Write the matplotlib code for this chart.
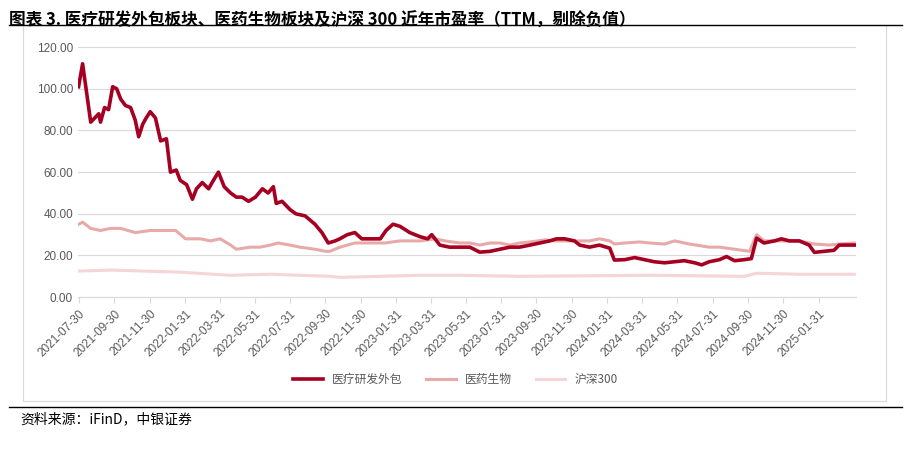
import matplotlib
matplotlib.use("Agg")
import matplotlib.pyplot as plt
import matplotlib.patches as mpatches
import pandas as pd
import numpy as np

plt.rcParams["font.family"] = ["Noto Sans CJK SC", "DejaVu Sans"]

start = pd.Timestamp("2021-07-30")
cro_days = [0,7,21,35,38,45,52,59,66,73,81,90,98,104,111,117,124,133,142,152,159,169,176,187,197,204,214,225,231,242,252,263,273,283,294,306,318,328,337,342,352,366,376,392,409,421,432,444,452,465,478,490,504,522,532,544,556,573,591,604,611,625,642,677,694,712,729,746,763,781,798,815,827,841,858,867,884,901,919,927,945,962,979,996,1014,1031,1048,1066,1078,1091,1109,1121,1135,1152,1164,1173,1186,1204,1216,1230,1247,1264,1273,1290,1307,1316,1330,1342]
cro_vals = [101,112,84,88,84,91,90,101,100,95,92,91,85,77,83,86,89,86,75,76,60,61,56,54,47,52,55,52,55,60,53,50,48,48,46,48,52,50,53,45,46,42,40,39,35,31,26,27,28,30,31,28,28,28,32,35,34,31,29,28,30,25,24,24,21.6,22,23,24,24,25,26,27,28,28,27,25,24,25,23.5,17.8,18,19,18,17,16.5,17,17.5,16.5,15.5,17,18,19.5,17.5,18,18.5,28.3,26,27,28,27,27,25,21.5,22,22.5,25,25,25]
bio_days = [0,7,21,38,55,73,98,124,150,168,185,211,228,245,263,273,297,314,332,345,366,383,409,427,435,452,478,504,530,556,591,617,634,660,677,694,712,729,746,763,781,807,824,850,884,901,919,927,945,971,988,1014,1031,1057,1091,1109,1135,1161,1173,1186,1212,1247,1273,1299,1316,1342]
bio_vals = [35,36,33,32,33,33,31,32,32,32,28,28,27,28,25,23,24,24,25,26,25,24,23,22,22,24,26,26,26,27,27,28,27,26,26,25,26,26,25,26,26.5,27.5,27,27,27,28,27,25.5,26,26.5,26,25.5,27,25.5,24,24,23,22,30,27,27,27,25.5,25,25.5,26]
hs_days = [0,55,176,263,332,435,452,522,591,660,763,988,1152,1173,1247,1342]
hs_vals = [12.5,13,12,10.5,11,10,9.5,10,10.5,10.5,10,10.5,10,11.5,11,11]
names = ["医疗研发外包", "医药生物", "沪深300"]
colors = ["#A50021", "#E8A9A9", "#F5D5D5"]

tick_dates = [pd.Timestamp("2021-07-31") + pd.offsets.MonthEnd(2*i) for i in range(22)]
tick_dates[0] = pd.Timestamp("2021-07-30")

fig = plt.figure(figsize=(9.11, 4.53), dpi=100)
ax = fig.add_axes([0.0856, 0.344, 0.854, 0.552])

def todates(d):
    return [start + pd.Timedelta(days=x) for x in d]

ax.plot(todates(hs_days), hs_vals, color=colors[2], lw=2.2, label=names[2], zorder=2)
ax.plot(todates(bio_days), bio_vals, color=colors[1], lw=2.2, label=names[1], zorder=3)
ax.plot(todates(cro_days), cro_vals, color=colors[0], lw=2.6, label=names[0], zorder=4)

ax.set_ylim(0, 120)
ax.set_yticks(np.arange(0, 121, 20))
ax.set_yticklabels([f"{v:.2f}" for v in np.arange(0, 121, 20)], fontsize=8.5, color="#595959",
                   fontfamily="Liberation Sans")
ax.set_xlim(start - pd.Timedelta(days=1), start + pd.Timedelta(days=1345))
ax.set_xticks(tick_dates)
ax.set_xticklabels([d.strftime("%Y-%m-%d") for d in tick_dates], rotation=45, ha="right",
                   rotation_mode="anchor", fontsize=8.5, color="#595959", fontfamily="Liberation Sans")
ax.grid(axis="y", color="#D9D9D9", lw=0.8)
ax.set_axisbelow(True)
for s in ["top", "right", "left"]:
    ax.spines[s].set_visible(False)
ax.spines["bottom"].set_color("#D9D9D9")
ax.tick_params(axis="y", length=0)
ax.tick_params(axis="x", length=4, color="#D9D9D9")

h, l = ax.get_legend_handles_labels()
order = [2, 1, 0]
fig.legend([h[i] for i in order], [l[i] for i in order], loc="center", bbox_to_anchor=(0.5, 0.163),
           ncol=3, frameon=False, fontsize=8.5, handlelength=2.5, labelcolor="#595959")

fig.text(0.01, 0.975, "图表 3. 医疗研发外包板块、医药生物板块及沪深 300 近年市盈率（TTM，剔除负值）",
         fontsize=12, fontweight="bold", va="top", ha="left")
fig.add_artist(plt.Line2D([0.01, 0.99], [0.945, 0.945], color="black", lw=1))
fig.add_artist(plt.Line2D([0.01, 0.99], [0.102, 0.102], color="black", lw=1))
fig.add_artist(mpatches.Rectangle((0.025, 0.115), 0.948, 0.83, fill=False, ec="#D9D9D9", lw=0.8))
fig.text(0.022, 0.075, "资料来源：iFinD，中银证券", fontsize=10, style="italic", va="center")
fig.savefig("out.png", dpi=100)
